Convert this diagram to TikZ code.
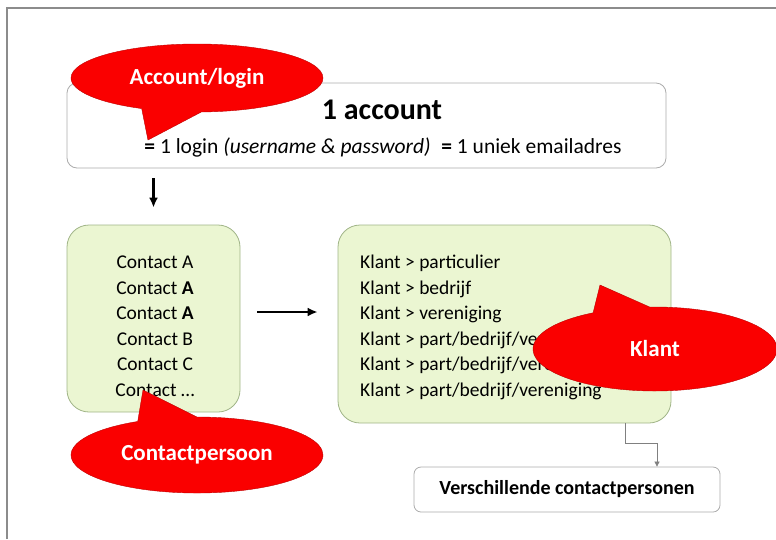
\documentclass[tikz,border=0pt]{standalone}
\usepackage{fontspec}
\setmainfont{Carlito}
\usetikzlibrary{shapes.callouts,arrows.meta}
\definecolor{boxgreen}{RGB}{235,246,210}
\definecolor{boxedge}{RGB}{160,180,135}
\definecolor{framegray}{RGB}{140,140,140}
\definecolor{bubblered}{RGB}{250,0,0}
\begin{document}
\begin{tikzpicture}[x=1pt,y=-1pt,
		whitebox/.style={draw=gray!65, fill=white, rounded corners=10pt, line width=0.8pt},
		greenbox/.style={draw=boxedge, fill=boxgreen, rounded corners=22pt, line width=0.8pt},
		bubble/.style={ellipse callout, fill=bubblered, draw=red!75!black, line width=0.4pt, text=white, inner sep=0pt, callout pointer arc=28, font=\fontsize{23}{25}\selectfont\bfseries},
		listtext/.style={inner sep=0pt, font=\fontsize{19.5}{25.5}\selectfont}]
			\useasboundingbox (0,0) rectangle (776,539);
			\draw [framegray, line width=1.5pt] (7,539) -- (7,8) -- (776,8);
			
			% account
			\node[whitebox, minimum width=599pt, minimum height=85pt] (account) at (366.5,125.5) {};
			\node[inner sep=0pt, font=\fontsize{30}{32}\selectfont\bfseries] (accounttitle) at (382,110) {1 account};
			\node[inner sep=0pt, font=\fontsize{21.5}{24}\selectfont] (accountline) at (383,147) {\textbf{=} 1 login \textit{(username \& password)}\enspace\textbf{=} 1 uniek emailadres};
			
			% contacten en klanten
			\node[greenbox, minimum width=173pt, minimum height=187pt] (contacts) at (153.5,318.5) {};
			\node[listtext, align=center] (contactlist) at (155,326) {Contact A\\Contact \textbf{A}\\Contact \textbf{A}\\Contact B\\Contact C\\Contact \dots};
			\node[greenbox, minimum width=333pt, minimum height=198pt] (klanten) at (504.5,324) {};
			\node[listtext, align=left, anchor=west] (klantlist) at (360,327.5) {Klant > particulier\\Klant > bedrijf\\Klant > vereniging\\Klant > part/bedrijf/vereniging\\Klant > part/bedrijf/vereniging\\Klant > part/bedrijf/vereniging};
			\node[whitebox, rounded corners=7pt, minimum width=306pt, minimum height=45pt, font=\fontsize{20}{22}\selectfont\bfseries] (verschil) at (567,489.5) {Verschillende contactpersonen};
			
			\draw [-{Latex[length=10pt,width=9pt]}][black, line width=2.2pt, shorten <=10pt, shorten >=17pt] (account.south -| contacts) -- (contacts.north);
			\draw [-{Latex[length=10pt,width=9pt]}][black, line width=2.2pt, shorten <=17pt, shorten >=20pt] ([yshift=6.5pt]contacts.east) -- ([yshift=6.5pt]contacts.east -| klanten.west);
			\draw [-{Triangle[length=5pt,width=5pt]}][gray, line width=0.7pt] ([xshift=120.5pt]klanten.south) -- ++(0,20) -| (verschil.north -| 657,0);
			
			% callouts
			\node[bubble, minimum width=252pt, minimum height=68pt, callout absolute pointer={(148,140)}] (loginbubble) at (197,78) {Account/login};
			\node[bubble, minimum width=244pt, minimum height=84pt, callout absolute pointer={(600,285)}] (klantbubble) at (655,349) {Klant};
			\node[bubble, minimum width=252pt, minimum height=76pt, callout absolute pointer={(143,390)}] (contactbubble) at (197,455) {Contactpersoon};
		
		\end{tikzpicture}
\end{document}
